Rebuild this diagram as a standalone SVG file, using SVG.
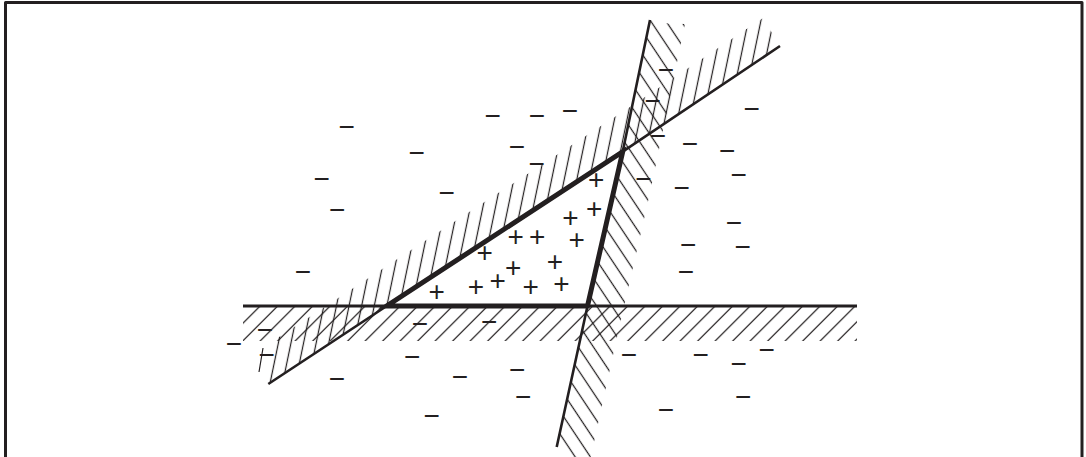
<svg xmlns="http://www.w3.org/2000/svg" width="1086" height="457" viewBox="0 0 1086 457">
<style>
.ln{fill:none;stroke:#231f20;stroke-linecap:butt;stroke-linejoin:round}
.s{font-family:"Liberation Sans",Arial,sans-serif;font-size:28px;fill:#231f20;text-anchor:middle}
</style>
<defs>
<pattern id="hH" patternUnits="userSpaceOnUse" x="0" y="0" width="17.5" height="1000" patternTransform="skewX(-45)">
<line x1="6.2" y1="0" x2="6.2" y2="1000" stroke="#231f20" stroke-width="1.7"/>
</pattern>
<pattern id="hD" patternUnits="userSpaceOnUse" x="0" y="0" width="12.6" height="1000" patternTransform="skewX(-11.7)">
<line x1="9.2" y1="0" x2="9.2" y2="1000" stroke="#231f20" stroke-width="1.25"/>
</pattern>
<pattern id="hS" patternUnits="userSpaceOnUse" x="0" y="0" width="15.24" height="1000" patternTransform="skewX(33.66)">
<line x1="11.86" y1="0" x2="11.86" y2="1000" stroke="#231f20" stroke-width="1.45"/>
</pattern>
</defs>
<rect x="0" y="0" width="1086" height="457" fill="#ffffff"/>
<g id="frame">
<path class="ln" d="M5.5,457V2.5H1082V457" stroke="#000" stroke-width="3"/>
</g>
<g id="hatching">
<rect x="243" y="306" width="614" height="35" fill="url(#hH)"/>
<polygon points="268.3,384 277.9,337.7 396.3,259.7 632.3,105.4 763,18 780,46 622.7,151.7 386.7,306" fill="url(#hD)"/>
<polygon points="650,20 668,23.5 685,24 677.3,61 650,192.7 614.8,347 584,488 556.7,447 587.5,306 622.7,151.7" fill="url(#hS)"/>
<line class="ln" x1="259" y1="372" x2="263" y2="348" stroke-width="1.2"/>
</g>
<g id="connectors">
<path class="ln" d="M243,306H857" stroke-width="3"/>
<path class="ln" d="M268.3,384L386.7,306L622.7,151.7L780,46" stroke-width="2.6"/>
<path class="ln" d="M556.7,447L587.5,306L622.7,151.7L650,20" stroke-width="2.6"/>
<path class="ln" d="M386.7,306H587.5L622.7,151.7Z" stroke-width="5" style="stroke-linejoin:miter"/>
</g>
<g id="minus-signs" transform="translate(0,9.8)">
<text class="s" x="346.7" y="126.5">−</text>
<text class="s" x="416.7" y="152.5">−</text>
<text class="s" x="321.7" y="178.3">−</text>
<text class="s" x="337.3" y="209.2">−</text>
<text class="s" x="446.7" y="192.5">−</text>
<text class="s" x="492.7" y="115.5">−</text>
<text class="s" x="537" y="115.7">−</text>
<text class="s" x="570" y="110">−</text>
<text class="s" x="517" y="146.3">−</text>
<text class="s" x="536.7" y="163.3">−</text>
<text class="s" x="666" y="69">−</text>
<text class="s" x="652.7" y="100.5">−</text>
<text class="s" x="751.7" y="108.3">−</text>
<text class="s" x="658" y="135.5">−</text>
<text class="s" x="690" y="143.3">−</text>
<text class="s" x="727.3" y="150.7">−</text>
<text class="s" x="643.5" y="178.5">−</text>
<text class="s" x="681.7" y="187.3">−</text>
<text class="s" x="738.7" y="174.5">−</text>
<text class="s" x="734" y="222.5">−</text>
<text class="s" x="688.3" y="244.5">−</text>
<text class="s" x="742.7" y="246.7">−</text>
<text class="s" x="686" y="271.7">−</text>
<text class="s" x="303" y="271">−</text>
<text class="s" x="265" y="328.8">−</text>
<text class="s" x="234" y="343">−</text>
<text class="s" x="266.7" y="354.5">−</text>
<text class="s" x="420" y="323.3">−</text>
<text class="s" x="489.3" y="321.3">−</text>
<text class="s" x="412.3" y="356.7">−</text>
<text class="s" x="337" y="378.3">−</text>
<text class="s" x="460" y="376.7">−</text>
<text class="s" x="517.3" y="369.3">−</text>
<text class="s" x="523.3" y="396.5">−</text>
<text class="s" x="431.7" y="415.3">−</text>
<text class="s" x="629" y="354.2">−</text>
<text class="s" x="700.7" y="354.3">−</text>
<text class="s" x="766.7" y="349.3">−</text>
<text class="s" x="738.7" y="363.3">−</text>
<text class="s" x="743.3" y="396.7">−</text>
<text class="s" x="666" y="409.2">−</text>
</g>
<g id="plus-signs" transform="translate(0,9.8)">
<text class="s" x="596.3" y="179.3">+</text>
<text class="s" x="594.3" y="208.3">+</text>
<text class="s" x="570.5" y="217.3">+</text>
<text class="s" x="515.7" y="236.7">+</text>
<text class="s" x="537.3" y="236.7">+</text>
<text class="s" x="576.7" y="239.3">+</text>
<text class="s" x="484.7" y="252.7">+</text>
<text class="s" x="555" y="261">+</text>
<text class="s" x="513.3" y="267.3">+</text>
<text class="s" x="497.7" y="280">+</text>
<text class="s" x="476" y="286.7">+</text>
<text class="s" x="530.7" y="286.7">+</text>
<text class="s" x="561.5" y="283.3">+</text>
<text class="s" x="436.7" y="291.7">+</text>
</g>
</svg>
